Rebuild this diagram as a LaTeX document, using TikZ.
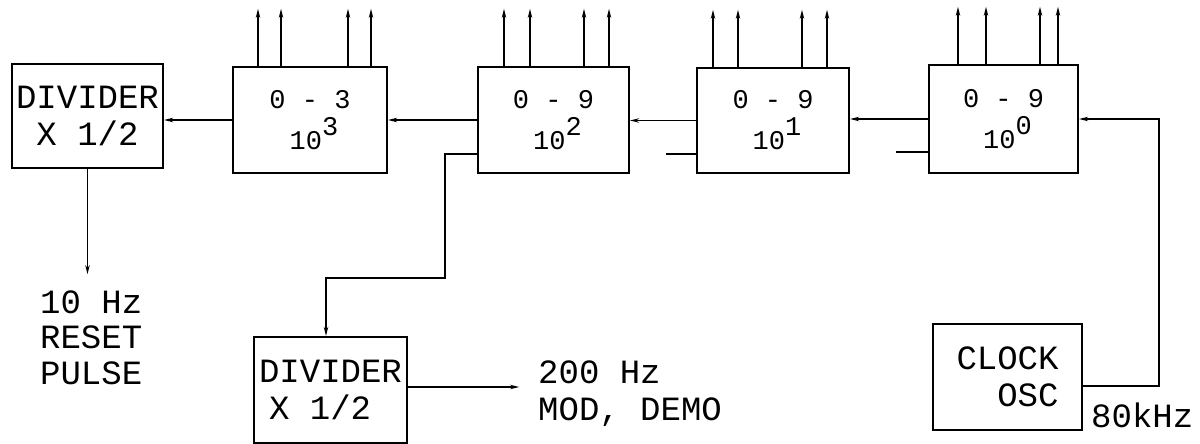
\documentclass[tikz,border=0pt]{standalone}
\usepackage{fontspec}
\setmainfont{Liberation Mono}
\usetikzlibrary{arrows.meta,calc}
\begin{document}
\begin{tikzpicture}[x=1pt,y=-1pt,
  box/.style={draw,line width=2.2pt,inner sep=0pt},
  conn/.style={line width=1.3pt},
  arr/.style={conn,-{Stealth[length=9pt,width=4.5pt]}},
  bigtxt/.style={font=\fontsize{34}{37}\selectfont},
  cnttxt/.style={font=\fontsize{27}{41}\selectfont,align=center}]
\useasboundingbox (0,0) rectangle (1200,444);
% boxes
\node[box,bigtxt,align=center,minimum width=151pt,minimum height=104pt] (div1) at (87.5,116) {DIVIDER\\X 1/2};
\node[box,cnttxt,minimum width=154pt,minimum height=106pt] (c3) at (310,120) {0 - 3\\\hspace*{8pt}10\raisebox{14pt}{3}};
\node[box,cnttxt,minimum width=151pt,minimum height=106pt] (c2) at (553.5,120) {0 - 9\\\hspace*{8pt}10\raisebox{14pt}{2}};
\node[box,cnttxt,minimum width=152pt,minimum height=105pt] (c1) at (773,120.5) {0 - 9\\\hspace*{8pt}10\raisebox{14pt}{1}};
\node[box,cnttxt,minimum width=149pt,minimum height=108pt] (c0) at (1003.5,119) {0 - 9\\\hspace*{8pt}10\raisebox{14pt}{0}};
\node[box,bigtxt,align=left,minimum width=153pt,minimum height=106pt] (div2) at (330.5,390) {DIVIDER\\\hspace*{10pt}X 1/2};
\node[box,bigtxt,align=right,minimum width=149pt,minimum height=106pt] (clk) at (1007.5,377) {CLOCK\\OSC};
% labels
\node[bigtxt,align=left,anchor=west,inner sep=0pt,font=\fontsize{34}{35.5}\selectfont] (reset) at (40,337.5) {10 Hz\\RESET\\PULSE};
\node[bigtxt,align=left,anchor=west,inner sep=0pt] (demo) at (538,393.5) {200 Hz\\MOD, DEMO};
\node[bigtxt,anchor=west,inner sep=0pt] (khz) at (1091,415) {80kHz};
% top output arrows
\foreach \b/\list in {c3/{-52,-29,38,61}, c2/{-49.5,-23.5,30.5,55.5}, c1/{-60,-35,29,54}, c0/{-45.5,-17.5,36.5,54.5}}{
  \foreach \dx in \list {
    \draw[arr] ($(\b.north)+(\dx,0)$) -- ++(0,-57);
  }
}
% chain connectors
\draw[arr] (c3.west) -- (c3.west -| div1.east);
\draw[arr] (c2.west) -- (c2.west -| c3.east);
\draw[arr] (c1.west) -- (c1.west -| c2.east);
\draw[arr] (c0.west) -- (c0.west -| c1.east);
% clock feed
\coordinate (clkout) at ($(clk.east)+(0,9)$);
\coordinate (turn) at (1159,119);
\draw[arr] (clkout) -| (turn) -- (c0.east);
% tap to second divider
\coordinate (tap) at ($(c2.west)+(0,34)$);
\coordinate (k1) at (445,278);
\coordinate (k2) at (326,278);
\draw[arr] (tap) -| (k1) -- (k2) -- (k2 |- div2.north);
% stubs
\coordinate (s1) at ($(c1.west)+(0,33.5)$);
\coordinate (s0) at ($(c0.west)+(0,33)$);
\draw[conn] (s1) -- ++(-30,0);
\draw[conn] (s0) -- ++(-32,0);
% outputs
\draw[arr] (div1.south) -- ++(0,105) coordinate (rout);
\coordinate (d2out) at ($(div2.east)+(0,-3)$);
\draw[arr] (d2out) -- ++(111,0);
\end{tikzpicture}
\end{document}
